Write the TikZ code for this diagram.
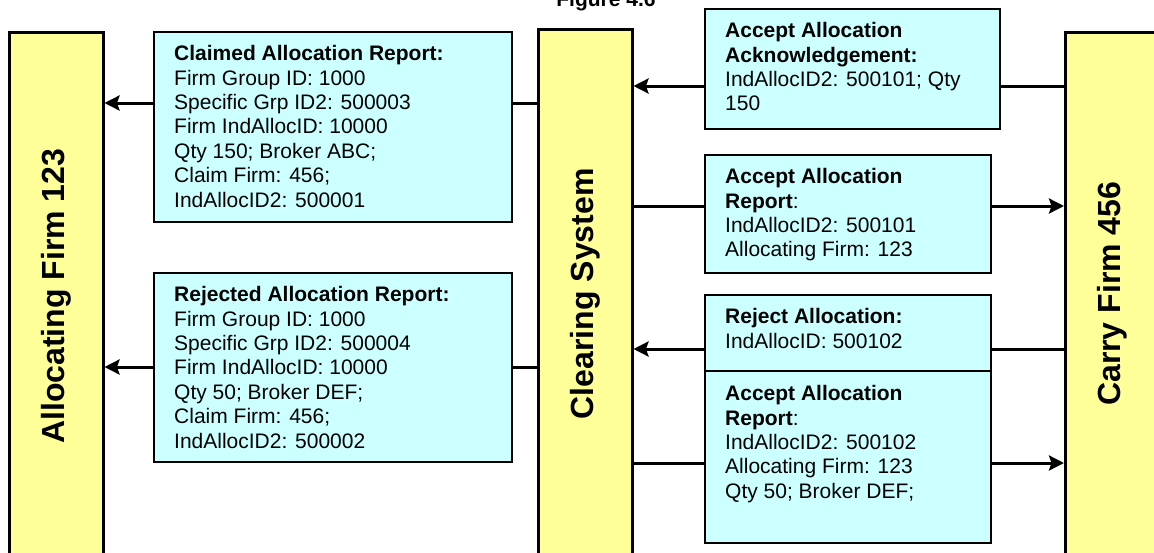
\documentclass[tikz,border=0pt]{standalone}
\usepackage{fontspec}
\setmainfont{Liberation Sans}
\usetikzlibrary{arrows.meta,calc}
\pgfdeclarelayer{background}
\pgfsetlayers{background,main}
\definecolor{partyfill}{HTML}{FFFF99}
\definecolor{msgfill}{HTML}{CCFFFF}
\newcommand\firstline{\rule{0pt}{16pt}}

\begin{document}
\begin{tikzpicture}[x=1pt,y=-1pt,
  party/.style={draw=black, line width=2.5pt, fill=partyfill, anchor=north west,
    inner sep=0pt, minimum width=94pt},
  partylabel/.style={rotate=90, inner sep=0pt,
    font=\bfseries\fontsize{32}{38}\selectfont},
  msg/.style={draw=black, line width=2pt, fill=msgfill, anchor=north west, inner sep=0pt},
  msgtext/.style={anchor=north west, inner sep=0pt, align=left,
    font=\fontsize{21}{24.4}\selectfont},
  flow/.style={line width=3pt, -{Stealth[length=15pt,width=15pt,inset=2.5pt]}},
  plain/.style={line width=3pt}]

\useasboundingbox (0,0) rectangle (1154,552);

% caption
\node[anchor=base, inner sep=0pt, font=\bfseries\fontsize{21}{25}\selectfont]
  (title) at (606,6.5) {Figure 4.6};

% parties
\node[party, minimum height=528pt] (alloc) at (8,31) {};
\node[partylabel] (allocLbl) at (alloc.center) {Allocating Firm 123};
\node[party, minimum height=529pt] (clear) at (537,28) {};
\node[partylabel] (clearLbl) at (clear.center) {Clearing System};
\node[party, minimum height=523pt] (carry) at (1064,31) {};
\node[partylabel] (carryLbl) at (carry.center) {Carry Firm 456};

% messages between clearing system and allocating firm
\node[msg, minimum width=358pt, minimum height=190pt] (claimed) at (153,31) {};
\node[msgtext] (claimedTxt) at ($(claimed.north west)+(21,13.5)$)
  {\firstline\textbf{Claimed Allocation Report:}\\Firm Group ID: 1000\\Specific Grp ID2: 500003\\Firm IndAllocID: 10000\\Qty 150; Broker ABC;\\Claim Firm: 456;\\IndAllocID2: 500001};

\node[msg, minimum width=358pt, minimum height=189pt] (rejected) at (153,272) {};
\node[msgtext] (rejectedTxt) at ($(rejected.north west)+(21,13.5)$)
  {\firstline\textbf{Rejected Allocation Report:}\\Firm Group ID: 1000\\Specific Grp ID2: 500004\\Firm IndAllocID: 10000\\Qty 50; Broker DEF;\\Claim Firm: 456;\\IndAllocID2: 500002};

% messages between clearing system and carry firm
\node[msg, minimum width=295pt, minimum height=120pt] (ack) at (704,8) {};
\node[msgtext] (ackTxt) at ($(ack.north west)+(21,13.5)$)
  {\firstline\textbf{Accept Allocation}\\\textbf{Acknowledgement:}\\IndAllocID2: 500101; Qty\\150};

\node[msg, minimum width=286pt, minimum height=118pt] (accrep) at (704,154) {};
\node[msgtext] (accrepTxt) at ($(accrep.north west)+(21,13.5)$)
  {\firstline\textbf{Accept Allocation}\\\textbf{Report}:\\IndAllocID2: 500101\\Allocating Firm: 123};

\node[msg, minimum width=286pt, minimum height=76pt] (reject) at (704,294) {};
\node[msgtext] (rejectTxt) at ($(reject.north west)+(21,13.5)$)
  {\firstline\textbf{Reject Allocation:}\\IndAllocID: 500102};

\node[msg, minimum width=286pt, minimum height=172pt] (accrep2) at (704,370) {};
\node[msgtext] (accrep2Txt) at ($(accrep2.north west)+(21,14.5)$)
  {\firstline\textbf{Accept Allocation}\\\textbf{Report}:\\IndAllocID2: 500102\\Allocating Firm: 123\\Qty 50; Broker DEF;};

% levels of the flows
\coordinate (yClaimed) at (0,103);
\coordinate (yRejected) at (0,367);
\coordinate (yAck) at (0,86);
\coordinate (yAccRep) at (0,206);
\coordinate (yReject) at (0,349);
\coordinate (yAccRep2) at (0,463);

\begin{pgfonlayer}{background}
  \draw[flow] (clear.west |- yClaimed) -- (alloc.east |- yClaimed);
  \draw[flow] (clear.west |- yRejected) -- (alloc.east |- yRejected);
  \draw[flow] (carry.west |- yAck) -- (clear.east |- yAck);
  \draw[flow] (clear.east |- yAccRep) -- (carry.west |- yAccRep);
  \draw[flow] (carry.west |- yReject) -- (clear.east |- yReject);
  \draw[flow] (clear.east |- yAccRep2) -- (carry.west |- yAccRep2);
\end{pgfonlayer}
\end{tikzpicture}
\end{document}
